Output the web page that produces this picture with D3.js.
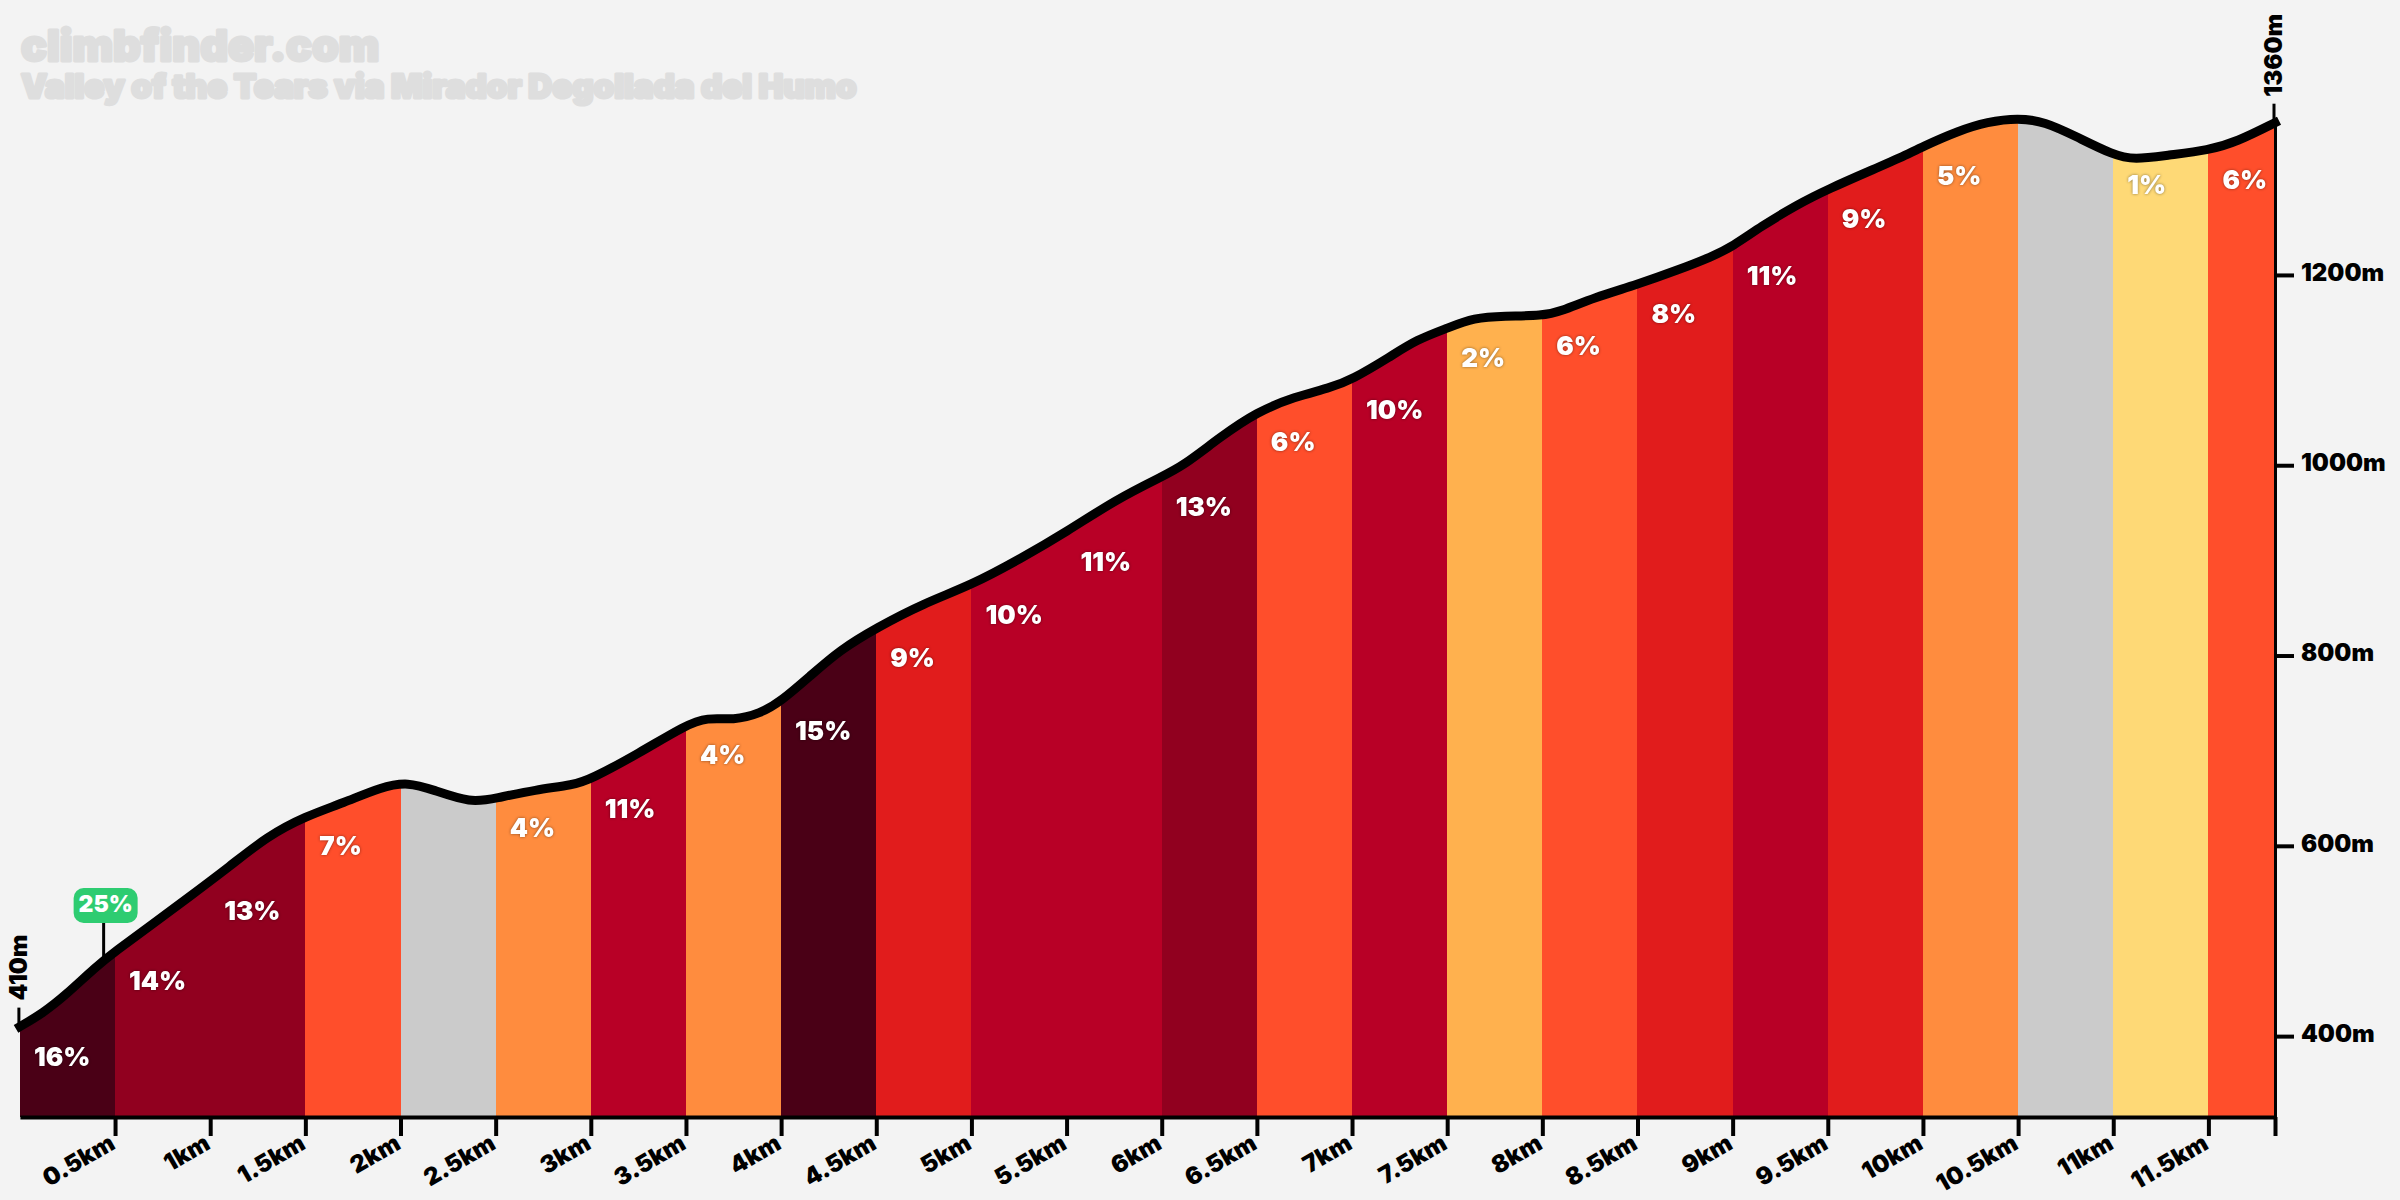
<!DOCTYPE html>
<html>
<head>
<meta charset="utf-8">
<script src="https://cdn.jsdelivr.net/npm/d3@7"></script>
<style>
  html, body { margin:0; padding:0; background:#f3f3f3; }
  svg { display:block; }
  text { font-family:"Inter", sans-serif; }
</style>
</head>
<body>
<svg width="2400" height="1200"></svg>
<script>
// profile
var distKm = [0,0.12,0.24,0.4,0.5,0.7,0.9,1.1,1.3,1.5,1.7,1.9,2.04,2.17,2.37,2.5,2.71,2.91,3,3.25,3.5,3.61,3.75,3.89,4,4.15,4.31,4.5,4.75,5,5.26,5.5,5.76,6,6.11,6.31,6.5,6.7,6.88,7,7.2,7.34,7.5,7.64,7.8,8,8.1,8.27,8.5,8.71,8.89,9,9.15,9.34,9.5,9.74,9.88,10,10.18,10.34,10.5,10.64,10.8,11,11.11,11.29,11.5,11.65,11.85]
var elevM = [410,424,443,473,489,518,548,578,610,631,645,662,667,659,645,650,659,664,670,697,727,735,732,739,752,778,806,829,855,874,902,930,964,988,999,1030,1056,1072,1081,1090,1114,1132,1144,1155,1157,1157,1162,1176,1190,1205,1219,1230,1251,1274,1290,1311,1323,1335,1351,1361,1365,1361,1346,1326,1321,1326,1331,1340,1360]

// one grade per 0.5km, null = no label (grey)
var segStart = [0,0.5,1,1.5,2,2.5,3,3.5,4,4.5,5,5.5,6,6.5,7,7.5,8,8.5,9,9.5,10,10.5,11,11.5]
var segGrade = [16,14,13,7,null,4,11,4,15,9,10,11,13,6,10,2,6,8,11,9,5,null,1,6]

var distTicks = [0.5,1,1.5,2,2.5,3,3.5,4,4.5,5,5.5,6,6.5,7,7.5,8,8.5,9,9.5,10,10.5,11,11.5,11.85]
var elevTicks = [400,600,800,1000,1200]

var steepestKm = 0.44
var steepestLabel = "25%"
var titleText = "climbfinder.com"
var subtitleText = "Valley of the Tears via Mirador Degollada del Humo"

var gradeBreaks = [2,4,6,8,10,13,15]
var gradeColors = ["#fed976","#ffb14e","#ff8c3e","#ff4e2b","#e11c1c","#b80026","#91001f","#4a0016"]

var svg = d3.select("svg")
var plot = {base:1117, left:19.9, right:2275, top:122.7}
var totalKm = distKm[distKm.length-1]
var startM = elevM[0], endM = elevM[elevM.length-1]

svg.append("rect").attr("width",2400).attr("height",1200).attr("fill","#f3f3f3")

var xScale = d3.scaleLinear().domain([0,totalKm]).range([plot.left,plot.right])
var yScale = d3.scaleLinear().domain([315,endM]).range([plot.base,plot.top])
var cScale = d3.scaleThreshold().domain(gradeBreaks).range(gradeColors)
var elevAt = d3.scaleLinear().domain(distKm).range(elevM)

var profile = distKm.map(function(d,i){return [d,elevM[i]]})

var curve = d3.curveBasis
var areaGen = d3.area()
    .x(function(p){return xScale(p[0])})
    .y0(plot.base)
    .y1(function(p){return yScale(p[1])})
    .curve(curve)
var lineGen = d3.line()
    .x(function(p){return xScale(p[0])})
    .y(function(p){return yScale(p[1])})
    .curve(curve)

svg.append("clipPath").attr("id","under")
    .append("path").attr("d",areaGen(profile))

//coloured bands, clipped to the profile
svg.append("g").attr("clip-path","url(#under)")
    .selectAll("rect")
    .data(segStart)
    .enter()
    .append("rect")
    .attr("x",function(d){return xScale(d)})
    .attr("y",yScale(endM)-10)
    .attr("width",function(d){return xScale(Math.min(d+0.5,totalKm))-xScale(d)})
    .attr("height",plot.base-plot.top+10)
    .attr("shape-rendering","crispEdges")
    .attr("fill",function(d,i){return segGrade[i]===null ? "#cbcbcb" : cScale(segGrade[i])})

//axes
var xAxis = d3.axisBottom(xScale)
    .tickValues(distTicks)
    .tickSize(19)
    .tickSizeOuter(0)
    .tickFormat(function(d){return d===totalKm ? "" : d+"km"})
var yAxis = d3.axisRight(yScale)
    .tickValues(elevTicks)
    .tickSize(19)
    .tickSizeOuter(0)
    .tickFormat(function(d){return d+"m"})

var gx = svg.append("g").attr("transform","translate(0,"+plot.base+")").call(xAxis)
gx.select(".domain").attr("stroke","#000").attr("stroke-width",4)
gx.selectAll(".tick line").attr("stroke","#000").attr("stroke-width",4)
gx.selectAll(".tick text")
    .attr("font-size",24).attr("font-weight",900).attr("font-family","Inter").attr("fill","#000")
    .attr("text-anchor","end")
    .attr("dy",null)
    .attr("y",0)
    .attr("transform","translate(1,31) rotate(-30)")

var gy = svg.append("g").attr("transform","translate("+plot.right+",0)").call(yAxis)
gy.select(".domain").attr("stroke","#000").attr("stroke-width",3)
gy.selectAll(".tick line").attr("stroke","#000").attr("stroke-width",4)
gy.selectAll(".tick text")
    .attr("font-size",24).attr("font-weight",900).attr("font-family","Inter").attr("fill","#000")
    .attr("x",26)
    .attr("dy","0.22em")

//start and end heights
var ends = [{km:0,m:startM},{km:totalKm,m:endM}]
svg.selectAll(".endTick")
    .data(ends)
    .enter()
    .append("line")
    .attr("class","endTick")
    .attr("x1",function(e){return xScale(e.km)-1})
    .attr("x2",function(e){return xScale(e.km)-1})
    .attr("y1",function(e){return yScale(e.m)})
    .attr("y2",function(e){return yScale(e.m)-19})
    .attr("stroke","#000").attr("stroke-width",3)
svg.selectAll(".endLabel")
    .data(ends)
    .enter()
    .append("text")
    .attr("class","endLabel")
    .attr("transform",function(e){return "translate("+(xScale(e.km)+7)+","+(yScale(e.m)-26)+") rotate(-90)"})
    .attr("font-size",24).attr("font-weight",900).attr("fill","#000")
    .text(function(e){return e.m+"m"})

//profile line on top of the bands
svg.append("path")
    .attr("d",lineGen(profile))
    .attr("fill","none")
    .attr("stroke","#000")
    .attr("stroke-width",9)
    .attr("stroke-linecap","square")
    .attr("stroke-linejoin","round")

//grade labels
svg.append("g")
    .attr("style","filter:drop-shadow(0 0 1.5px rgba(0,0,0,0.45))")
    .selectAll("text")
    .data(segStart.filter(function(d,i){return segGrade[i]!==null}))
    .enter()
    .append("text")
    .attr("x",function(d){return xScale(d)+14})
    .attr("y",function(d){return yScale(elevAt(d))+39})
    .attr("font-size",26).attr("font-weight",900).attr("fill","#fff")
    .text(function(d){return segGrade[segStart.indexOf(d)]+"%"})

//steepest point marker
var pinX = xScale(steepestKm), pinY = yScale(elevAt(steepestKm))
svg.append("line")
    .attr("x1",pinX).attr("x2",pinX)
    .attr("y1",pinY-2).attr("y2",923)
    .attr("stroke","#000").attr("stroke-width",3)
svg.append("rect")
    .attr("x",pinX-30).attr("y",888)
    .attr("width",64).attr("height",35).attr("rx",10)
    .attr("fill","#2ecc71")
svg.append("text")
    .attr("x",pinX+2).attr("y",912)
    .attr("text-anchor","middle")
    .attr("font-size",23).attr("font-weight",900).attr("fill","#fff")
    .text(steepestLabel)

//watermark title
svg.append("text")
    .attr("x",21).attr("y",61)
    .attr("font-size",43).attr("font-weight",900)
    .attr("fill","#dedede").attr("stroke","#dedede").attr("stroke-width",3)
    .attr("stroke-linejoin","round")
    .text(titleText)
svg.append("text")
    .attr("x",21).attr("y",98)
    .attr("font-size",33).attr("font-weight",900)
    .attr("fill","#dedede").attr("stroke","#dedede").attr("stroke-width",3)
    .attr("stroke-linejoin","round")
    .text(subtitleText)
</script>
</body>
</html>
